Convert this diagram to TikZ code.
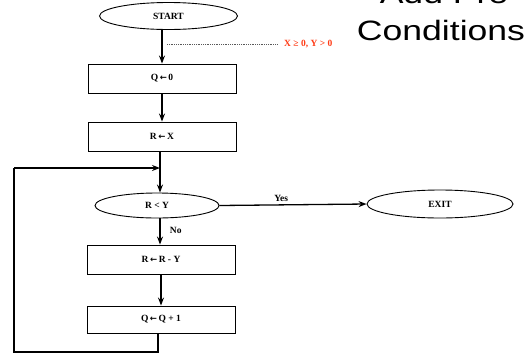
\documentclass[tikz,border=0pt]{standalone}
\usepackage{fontspec}
\setmainfont{Liberation Serif}
\newfontfamily\headfont{Liberation Sans}
\newfontfamily\arrowfont{DejaVu Sans}
\newcommand{\getsarrow}{{\arrowfont\bfseries\fontsize{8.5}{10}\selectfont ←}}
\usetikzlibrary{shapes.geometric,arrows.meta}
\definecolor{precond}{HTML}{FF3A14}
\begin{document}
\begin{tikzpicture}[x=1pt,y=-1pt,
  every node/.style={font=\bfseries\fontsize{9.5}{11}\selectfont},
  oval/.style={draw,ellipse,line width=0.9pt,inner sep=0pt},
  stepbox/.style={draw,rectangle,line width=0.9pt,minimum width=148pt,minimum height=29pt,inner sep=0pt},
  flow/.style={line width=1.3pt,-{Stealth[length=8pt,width=6pt]}},
  plain/.style={line width=1.3pt}]
\useasboundingbox (0,0) rectangle (527,354);

% heading (top line runs off the page)
\node[anchor=base,font=\headfont\fontsize{28}{30}\selectfont] (h1) at (444,3.5) {\scalebox{1.27}[1]{Add Pre}};
\node[anchor=base,font=\headfont\fontsize{28}{30}\selectfont] (h2) at (441,40.7) {\scalebox{1.27}[1]{Conditions}};

% flowchart nodes
\node[oval,minimum width=138pt,minimum height=27pt] (start) at (168.5,16) {START};
\node[stepbox] (q0) at (162,78.5) {Q\,\getsarrow\,0};
\node[stepbox] (rx) at (162,136.5) {R\,\getsarrow\,X};
\node[oval,minimum width=124pt,minimum height=25pt] (test) at (157,205.5) {R < Y};
\node[oval,minimum width=146pt,minimum height=28pt] (exit) at (440,204) {EXIT};
\node[stepbox] (rry) at (161,259.5) {R\,\getsarrow\,R - Y};
\node[stepbox,minimum height=27pt] (q1) at (161,319.5) {Q\,\getsarrow\,Q + 1};

% precondition note
\coordinate (pa) at (167,44);
\node[font=\bfseries\fontsize{9.5}{11}\selectfont,text=precond,anchor=west,inner sep=1pt] (pre) at (283,44) {X ≥ 0, Y > 0};
\draw[gray!70!black,line width=0.5pt,dash pattern=on 1pt off 0.8pt] (pa) -- (277,44);

% connectors
\draw[flow] (q0.north |- start.south) -- (q0.north);
\draw[flow] (q0.south) -- (rx.north);
\coordinate (join) at (160,168);
\draw[flow] (rx.south -| join) -- (join |- test.north);
\draw[flow] (test.east) -- node[above=-0.5pt,pos=0.42] (yes) {Yes} (exit.west);
\draw[flow] (test.south -| join) -- node[right=6pt,pos=0.45] (no) {No} (join |- rry.north);
\draw[flow] (rry.south) -- (q1.north);
\coordinate (lb) at (14,352);
\draw[plain] (q1.south -| 158,0) -- (158,352) -- (lb) -- (14,168);
\draw[flow] (14,168) -- (join);
\end{tikzpicture}
\end{document}
